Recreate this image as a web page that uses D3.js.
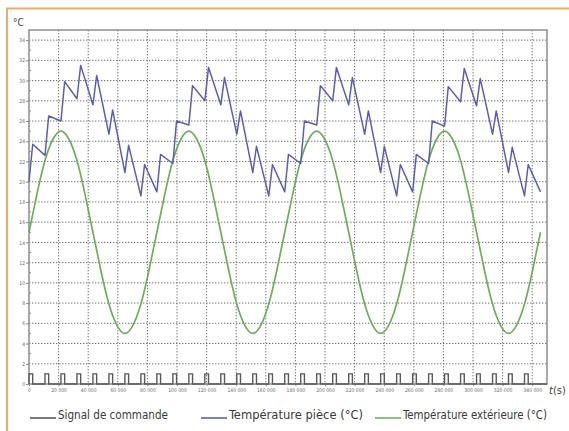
<!DOCTYPE html>
<html lang="fr">
<head>
<meta charset="UTF-8">
<title>Températures</title>
<script src="https://cdn.jsdelivr.net/npm/d3@7/dist/d3.min.js"></script>
<style>
    body{margin:0;background:#fff;}
    svg{display:block;}
    .tick text{font-family:"Liberation Sans Narrow","DejaVu Sans Condensed",sans-serif;font-size:5px;fill:#6a6a6a;}
    .legend{font-family:"Liberation Sans Narrow","DejaVu Sans Condensed",sans-serif;font-size:13px;fill:#3a3a3a;}
</style>
</head>
<body>
<svg id="chart"></svg>
<script>
    // temps de début de chaque impulsion du signal de commande (s)
    var cycleStart = [0, 10800, 21600, 32400, 43200, 54000, 64800, 75600,
        86400, 97200, 108000, 118800, 129600, 140400, 151200, 162000,
        172800, 183600, 194400, 205200, 216000, 226800, 237600, 248400,
        259200, 270000, 280800, 291600, 302400, 313200, 324000, 334800];
    var pulseWidth = 2500;
    var signalLevel = 1;

    // température pièce : creux avant chaque impulsion, pic à la fin de l'impulsion
    var roomLow = [20.0, 22.6, 26.0, 28.2, 27.6, 24.7, 20.9, 18.6,
        19.0, 21.8, 25.6, 28.0, 27.6, 24.7, 20.9, 18.6,
        19.0, 21.8, 25.6, 28.0, 27.6, 24.7, 20.9, 18.6,
        19.0, 21.8, 25.5, 27.9, 27.5, 24.7, 20.9, 18.6];
    var roomHigh = [23.7, 26.5, 29.9, 31.5, 30.5, 27.1, 23.6, 21.7,
        22.7, 26.0, 29.5, 31.3, 30.3, 27.0, 23.5, 21.7,
        22.7, 26.0, 29.5, 31.3, 30.3, 27.0, 23.5, 21.7,
        22.7, 26.0, 29.4, 31.2, 30.2, 27.0, 23.4, 21.7];
    var roomEnd = [345600, 19.0];

    // température extérieure lue tous les 5400 s
    var outsideStep = 5400;
    var outsideTemp = [
        15, 18.8, 22.1, 24.2, 25, 24.2, 22.1, 18.8, 15, 11.2, 7.9, 5.8, 5, 5.8, 7.9, 11.2,
        15, 18.8, 22.1, 24.2, 25, 24.2, 22.1, 18.8, 15, 11.2, 7.9, 5.8, 5, 5.8, 7.9, 11.2,
        15, 18.8, 22.1, 24.2, 25, 24.2, 22.1, 18.8, 15, 11.2, 7.9, 5.8, 5, 5.8, 7.9, 11.2,
        15, 18.8, 22.1, 24.2, 25, 24.2, 22.1, 18.8, 15, 11.2, 7.9, 5.8, 5, 5.8, 7.9, 11.2,
        15];

    var xTicks = [0, 20000, 40000, 60000, 80000, 100000, 120000, 140000, 160000,
        180000, 200000, 220000, 240000, 260000, 280000, 300000, 320000, 340000];
    var yTicks = [0, 2, 4, 6, 8, 10, 12, 14, 16, 18, 20, 22, 24, 26, 28, 30, 32, 34];
    var legendLabels = ["Signal de commande", "Température pièce (°C)", "Température extérieure (°C)"];

    var width = 569, height = 431;
    var plotL = 29, plotR = 547, plotT = 30, plotB = 384;
    var colors = ["#5e5656", "#5b5fb3", "#6fae5f"];

    var svg = d3.select("#chart").attr("width", width).attr("height", height);

    // cadre orange
    svg.append("path")
        .attr("d", "M7,431V8.5H569")
        .attr("fill", "none")
        .attr("stroke", "#f6a765")
        .attr("stroke-width", 2);

    var x = d3.scaleLinear().domain([0, 350000]).range([plotL, plotR]);
    var y = d3.scaleLinear().domain([0, 35]).range([plotB, plotT]);
    var fr = d3.formatLocale({decimal: ",", thousands: " ", grouping: [3], currency: ["", ""]});
    var fmt = fr.format(",");

    // grille pointillée
    var grid = svg.append("g");
    grid.selectAll(".hg").data(yTicks.slice(1)).enter().append("line")
        .attr("x1", plotL).attr("x2", plotR)
        .attr("y1", function(d){ return y(d); })
        .attr("y2", function(d){ return y(d); });
    grid.selectAll(".vg").data(xTicks.slice(1)).enter().append("line")
        .attr("x1", function(d){ return x(d); })
        .attr("x2", function(d){ return x(d); })
        .attr("y1", plotT).attr("y2", plotB);
    grid.selectAll("line")
        .attr("stroke", "#747474")
        .attr("stroke-width", 1)
        .attr("stroke-dasharray", "1.4,1.6");

    // axes
    svg.append("g")
        .attr("transform", "translate(" + plotL + ",0)")
        .call(d3.axisLeft(y).tickValues(yTicks).tickSize(3).tickPadding(1).tickFormat(function(d){ return d; }));
    svg.append("g")
        .attr("transform", "translate(0," + plotB + ")")
        .call(d3.axisBottom(x).tickValues(xTicks).tickSize(2).tickPadding(2).tickFormat(fmt));
    svg.selectAll(".domain").remove();
    svg.selectAll(".tick line").attr("stroke", "#8a8a8a");

    // petites graduations
    svg.append("g").selectAll("line")
        .data(d3.range(1, 35, 2)).enter().append("line")
        .attr("x1", plotL).attr("x2", plotL + 2)
        .attr("y1", function(d){ return y(d); })
        .attr("y2", function(d){ return y(d); })
        .attr("stroke", "#8a8a8a");

    svg.append("rect")
        .attr("x", plotL).attr("y", plotT)
        .attr("width", plotR - plotL).attr("height", plotB - plotT)
        .attr("fill", "none")
        .attr("stroke", "#8d8d8d")
        .attr("stroke-width", 1.5);

    // séries
    var line = d3.line()
        .x(function(d){ return x(d[0]); })
        .y(function(d){ return y(d[1]); });

    var outsidePts = outsideTemp.map(function(v, i){ return [i * outsideStep, v]; });
    svg.append("path")
        .attr("d", line.curve(d3.curveNatural)(outsidePts))
        .attr("fill", "none")
        .attr("stroke", colors[2])
        .attr("stroke-width", 1.7);

    var roomPts = [];
    cycleStart.forEach(function(t, i){
        roomPts.push([t, roomLow[i]]);
        roomPts.push([t + pulseWidth, roomHigh[i]]);
    });
    roomPts.push(roomEnd);
    svg.append("path")
        .attr("d", line.curve(d3.curveLinear)(roomPts))
        .attr("fill", "none")
        .attr("stroke", colors[1])
        .attr("stroke-width", 1.5)
        .attr("stroke-linejoin", "round");

    var sigPts = [[0, 0]];
    cycleStart.forEach(function(t){
        sigPts.push([t, signalLevel]);
        sigPts.push([t + pulseWidth, 0]);
    });
    sigPts.push([350000, 0]);
    svg.append("path")
        .attr("d", line.curve(d3.curveStepAfter)(sigPts))
        .attr("fill", "none")
        .attr("stroke", "#5a5a5a")
        .attr("stroke-width", 1.4);

    // libellés des axes
    svg.append("text")
        .attr("x", 13).attr("y", 26)
        .attr("font-family", "Liberation Sans Narrow, DejaVu Sans Condensed, sans-serif")
        .attr("font-size", 10)
        .attr("fill", "#4a4a4a")
        .text("°C");
    var tl = svg.append("text")
        .attr("x", 549).attr("y", 394)
        .attr("font-family", "Liberation Sans Narrow, DejaVu Sans Condensed, sans-serif")
        .attr("font-size", 11)
        .attr("fill", "#444");
    tl.append("tspan").attr("font-style", "italic").text("t");
    tl.append("tspan").text("(s)");

    // légende
    var legX = [30, 201, 375];
    var legW = [110, 134, 144];
    var leg = svg.append("g").selectAll("g")
        .data(legendLabels).enter().append("g")
        .attr("transform", function(d, i){ return "translate(" + legX[i] + ",0)"; });
    leg.append("line")
        .attr("x1", 0).attr("x2", 26)
        .attr("y1", 418).attr("y2", 418)
        .attr("stroke", function(d, i){ return colors[i]; })
        .attr("stroke-width", 1.6);
    leg.append("text")
        .attr("class", "legend")
        .attr("x", 28).attr("y", 419)
        .attr("textLength", function(d, i){ return legW[i]; })
        .attr("lengthAdjust", "spacingAndGlyphs")
        .text(function(d){ return d; });
</script>
</body>
</html>
